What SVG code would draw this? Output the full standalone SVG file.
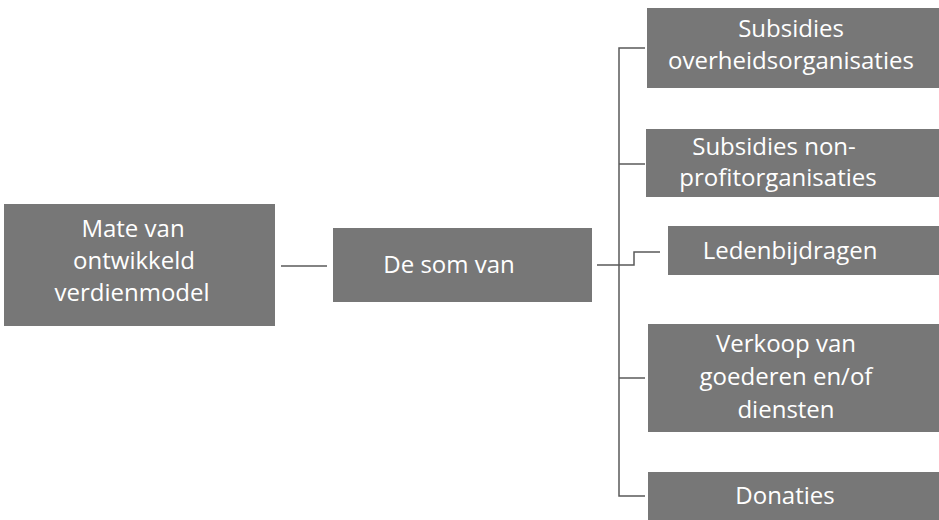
<svg xmlns="http://www.w3.org/2000/svg" width="939" height="520" viewBox="0 0 939 520">
<style>
.box{fill:#777777;}
.t{font-family:"Open Sans","Liberation Sans",sans-serif;font-size:24px;fill:#ffffff;text-anchor:middle;}
.c{fill:none;stroke:#5a5a5a;stroke-width:1.5;}
</style>
<rect width="939" height="520" fill="#ffffff"/>
<g id="connectors">
<line class="c" x1="281" y1="266" x2="327" y2="266"/>
<path class="c" d="M645,48 H619 V496 H645"/>
<line class="c" x1="619" y1="164" x2="645" y2="164"/>
<line class="c" x1="619" y1="378" x2="645" y2="378"/>
<path class="c" d="M597,265 H634 V252 H660"/>
</g>
<g id="node-mate">
<rect class="box" x="4" y="204" width="271" height="122"/>
<text class="t" x="133" y="237">Mate van</text>
<text class="t" x="134" y="269">ontwikkeld</text>
<text class="t" x="132" y="301">verdienmodel</text>
</g>
<g id="node-som">
<rect class="box" x="333" y="228" width="259" height="74"/>
<text class="t" x="449" y="273">De som van</text>
</g>
<g id="node-overheid">
<rect class="box" x="647" y="8" width="292" height="80"/>
<text class="t" x="791" y="37">Subsidies</text>
<text class="t" x="791" y="69">overheidsorganisaties</text>
</g>
<g id="node-nonprofit">
<rect class="box" x="646" y="129" width="293" height="68"/>
<text class="t" x="774" y="155">Subsidies non-</text>
<text class="t" x="778" y="186">profitorganisaties</text>
</g>
<g id="node-leden">
<rect class="box" x="668" y="226" width="271" height="49"/>
<text class="t" x="790" y="259">Ledenbijdragen</text>
</g>
<g id="node-verkoop">
<rect class="box" x="648" y="324" width="291" height="108"/>
<text class="t" x="786" y="352">Verkoop van</text>
<text class="t" x="786" y="385">goederen en/of</text>
<text class="t" x="786" y="418">diensten</text>
</g>
<g id="node-donaties">
<rect class="box" x="648" y="472" width="291" height="48"/>
<text class="t" x="785" y="504">Donaties</text>
</g>
</svg>
